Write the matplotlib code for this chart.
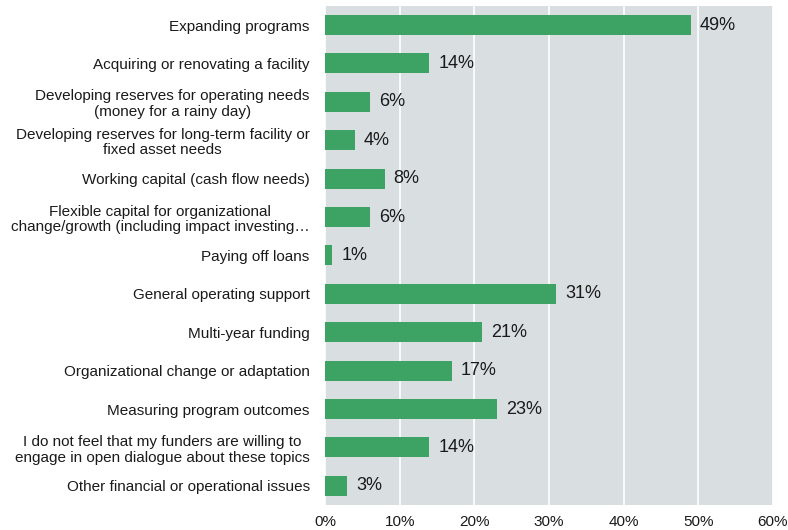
import matplotlib.pyplot as plt
import numpy as np

plt.rcParams['font.family'] = ['Liberation Sans', 'DejaVu Sans']

# Share of respondents choosing each funding need
categories = [
    'Expanding programs',
    'Acquiring or renovating a facility',
    'Developing reserves for operating needs\n(money for a rainy day)',
    'Developing reserves for long-term facility or\nfixed asset needs',
    'Working capital (cash flow needs)',
    'Flexible capital for organizational\nchange/growth (including impact investing\u2026',
    'Paying off loans',
    'General operating support',
    'Multi-year funding',
    'Organizational change or adaptation',
    'Measuring program outcomes',
    'I do not feel that my funders are willing to\nengage in open dialogue about these topics',
    'Other financial or operational issues',
]
values = [49, 14, 6, 4, 8, 6, 1, 31, 21, 17, 23, 14, 3]
ticks = [0, 10, 20, 30, 40, 50, 60]

fig = plt.figure(figsize=(7.88, 5.30), dpi=100)
ax = fig.add_axes([0.4124, 0.047, 0.5685, 0.942])
ax.set_facecolor('#D9DFE1')

y = np.arange(len(categories))
ax.barh(y, values, height=0.52, color='#3DA364', zorder=3)
for yi, v in zip(y, values):
    ax.text(v + 1.2, yi, f'{v}%', va='center', ha='left', fontsize=13, color='#1a1a1a', zorder=4)

ax.set_xlim(0, 60)
ax.set_ylim(len(categories) - 0.5, -0.5)
ax.set_yticks(y)
ax.set_yticklabels(categories, fontsize=11, color='#1a1a1a', ha='right', multialignment='center',
                   linespacing=1.15)
ax.set_xticks(ticks)
ax.set_xticklabels([f'{t}%' for t in ticks], fontsize=11, color='#1a1a1a')
ax.tick_params(length=0)
ax.tick_params(axis='x', pad=7)
ax.tick_params(axis='y', pad=11)
ax.grid(axis='x', color='white', linewidth=1.2, zorder=1)
for s in ax.spines.values():
    s.set_visible(False)

fig.savefig('out.png', dpi=100)
